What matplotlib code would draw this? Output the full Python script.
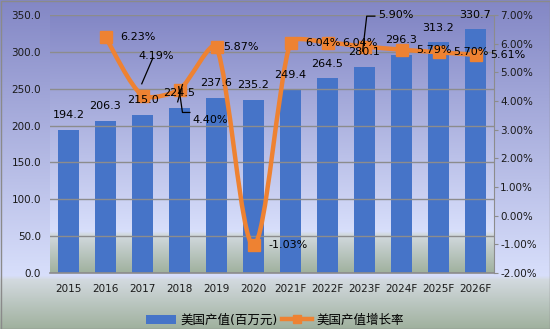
import numpy as np
import matplotlib
matplotlib.use("Agg")
import matplotlib.pyplot as plt
from matplotlib.colors import LinearSegmentedColormap
from matplotlib.path import Path
from matplotlib.patches import PathPatch, Rectangle, Patch
from matplotlib.lines import Line2D

plt.rcParams['font.family'] = ['DejaVu Sans', 'Noto Sans CJK SC']

# US output value (million yuan) and its yearly growth rate
years = ['2015', '2016', '2017', '2018', '2019', '2020',
         '2021F', '2022F', '2023F', '2024F', '2025F', '2026F']
output_value = [194.2, 206.3, 215.0, 224.5, 237.6, 235.2,
                249.4, 264.5, 280.1, 296.3, 313.2, 330.7]
growth_years = years[1:]
growth_rate = [6.23, 4.19, 4.40, 5.87, -1.03, 6.04, 6.04, 5.90, 5.79, 5.70, 5.61]

bar_color = '#4674C8'
line_color = '#EE8232'
grid_color = '#8C8C8C'

# label offsets (pixels) of the growth labels relative to their markers
growth_offsets = [(15, 0), (-4, 40), (13, -30), (7, 0), (15, 0), (15, 0),
                  (15, 0), (14, 32), (15, 0), (15, 0), (15, 0)]

W, H = 550, 329
fig = plt.figure(figsize=(5.5, 3.29), dpi=100)

# gradient background for the whole chart and for the plot area
grad = LinearSegmentedColormap.from_list(
    'bg', [(0.0, '#8387C5'), (0.84, '#D8DFFB'), (0.85, '#D3DAE0'), (1.0, '#A0B19E')])
ramp = np.linspace(0, 1, 256).reshape(-1, 1)

bg = fig.add_axes([0, 0, 1, 1], zorder=-10)
bg.imshow(ramp, cmap=grad, aspect='auto', extent=[0, 1, 0, 1])
bg.set_xlim(0, 1)
bg.set_ylim(0, 1)
bg.axis('off')
fig.patches.append(Rectangle((0.5 / W, 0.5 / H), 549 / W, 328 / H,
                             transform=fig.transFigure, fill=False,
                             edgecolor='#8A8A8A', lw=1.0))

ax = fig.add_axes([50 / W, (H - 273) / H, 444 / W, 258 / H])
ax.imshow(ramp, cmap=grad, aspect='auto', extent=[0, 1, 0, 1],
          transform=ax.transAxes, zorder=0)

x = np.arange(len(years))
ax.bar(x, output_value, width=0.57, color=bar_color, zorder=2)
ax.set_xlim(-0.5, len(years) - 0.5)
ax.set_ylim(0, 350)
ax.set_yticks(np.arange(0, 351, 50))
ax.set_yticklabels([f'{v:.1f}' for v in np.arange(0, 351, 50)])
ax.set_xticks(x)
ax.set_xticklabels(years)
ax.yaxis.grid(True, color=grid_color, lw=1.0, zorder=1)
ax.set_axisbelow(False)
ax.tick_params(axis='y', length=0, pad=6.5, labelsize=7.5, colors='#1a1a1a')
ax.tick_params(axis='x', length=0, pad=8, labelsize=7.5, colors='#1a1a1a')
for side in ['left', 'top', 'right']:
    ax.spines[side].set_visible(False)
ax.spines['bottom'].set_color(grid_color)
ax.spines['bottom'].set_linewidth(1.2)

ax2 = ax.twinx()
ax2.set_ylim(-2, 7)
ax2.set_yticks(np.arange(-2, 7.1, 1))
ax2.set_yticklabels([f'{v:.2f}%' for v in np.arange(-2, 7.1, 1)])
ax2.tick_params(axis='y', length=3, pad=1.5, labelsize=7.5, colors=grid_color,
                labelcolor='#1a1a1a')
for side in ['left', 'top', 'bottom']:
    ax2.spines[side].set_visible(False)
ax2.spines['right'].set_color(grid_color)

# smoothed growth line: cubic Bezier segments, tangents worked out in
# screen-like units (37 px per year, 28.7 px per percent) and clamped
# to keep the curve from overshooting next to steep jumps
gx = x[1:].astype(float)
gy = np.array(growth_rate)
sx, sy = 37.0, 28.7
pts = np.column_stack([gx * sx, gy * sy])
n = len(pts)


def clamp(vec, limit):
    length = np.hypot(*vec)
    return vec if length <= limit or length == 0 else vec * limit / length


verts = [pts[0]]
codes = [Path.MOVETO]
for i in range(n - 1):
    p0 = pts[max(i - 1, 0)]
    p1 = pts[i]
    p2 = pts[i + 1]
    p3 = pts[min(i + 2, n - 1)]
    seg = np.hypot(*(p2 - p1))
    c1 = p1 + clamp((p2 - p0) / 6, 0.22 * seg)
    c2 = p2 - clamp((p3 - p1) / 6, 0.22 * seg)
    verts += [c1, c2, p2]
    codes += [Path.CURVE4] * 3
verts = np.array(verts) / [sx, sy]
ax2.add_patch(PathPatch(Path(verts, codes), fill=False, edgecolor=line_color,
                        lw=3.2, capstyle='round', joinstyle='round', zorder=3))
ax2.plot(gx, gy, ls='none', marker='s', ms=8.5, color=line_color, zorder=4)

# leader lines for the moved growth labels
ax2.plot([2.28, 1.98], [5.50, 4.60], color='black', lw=0.9, zorder=5)
ax2.plot([3.08, 2.95], [4.57, 3.97], color='black', lw=0.9, zorder=5)
ax2.plot([2.98, 3.08, 3.28], [4.50, 3.60, 3.60], color='black', lw=0.9, zorder=5)
ax2.plot([7.95, 8.06, 8.28], [5.74, 6.96, 6.96], color='black', lw=0.9, zorder=5)

# value labels on top of everything
for xi, v in zip(x, output_value):
    ax2.annotate(f'{v:.1f}', (xi, v), xycoords=ax.transData,
                 xytext=(0, 14.5), textcoords='offset pixels',
                 ha='center', va='center', fontsize=8, color='black', zorder=6)
for xi, v, off in zip(gx, gy, growth_offsets):
    ax2.annotate(f'{v:.2f}%', (xi, v), xytext=off, textcoords='offset pixels',
                 ha='left', va='center', fontsize=8, color='black', zorder=6)

handles = [Patch(facecolor=bar_color, edgecolor='none'),
           Line2D([], [], color=line_color, lw=3.2, marker='s', ms=6)]
fig.legend(handles, ['美国产值(百万元)', '美国产值增长率'], loc='center',
           bbox_to_anchor=(275 / W, 1 - 320 / H), ncol=2, frameon=False,
           fontsize=9, handlelength=2.4, handletextpad=0.4, columnspacing=0.3)

fig.savefig('out.png', dpi=100)
